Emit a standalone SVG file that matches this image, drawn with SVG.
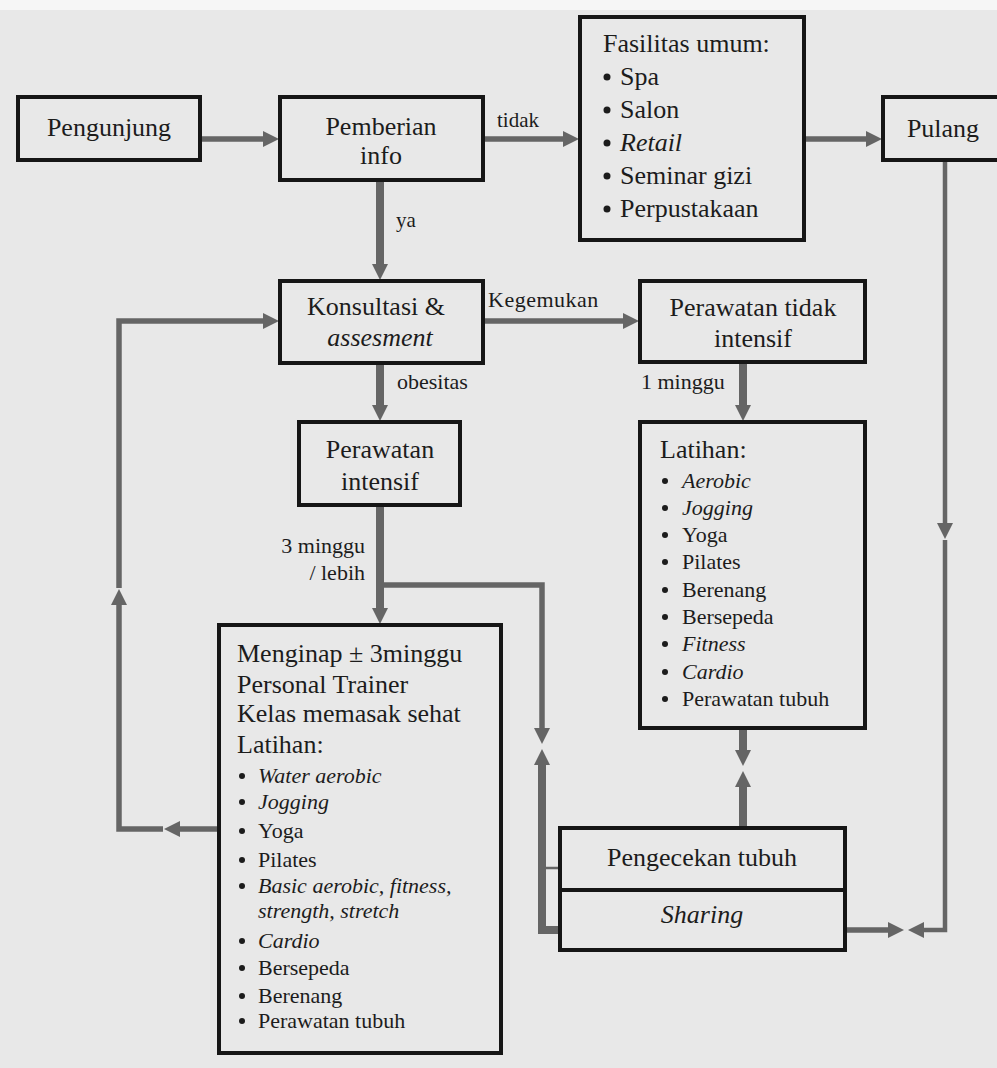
<svg xmlns="http://www.w3.org/2000/svg" width="997" height="1068" viewBox="0 0 997 1068" font-family="'Liberation Serif', 'Times New Roman', serif">
<style>
.bg{fill:#e8e8e8}
.box{fill:#e8e8e8;stroke:#161616;stroke-width:4}
.c{fill:none;stroke:#656565;stroke-linejoin:miter}
.h{stroke-width:5.5}
.v{stroke-width:8}
.t{stroke-width:4.5}
.th{stroke-width:2.5}
text{fill:#1c1c1c;font-family:'Liberation Serif','Times New Roman',serif}
.m{font-size:26px}
.s{font-size:22px}
.l{font-size:21px}
.i{font-style:italic}
.ctr{text-anchor:middle}
.end{text-anchor:end}
.dot{fill:#1c1c1c}
</style>
<defs>
<marker id="ah" viewBox="0 0 16 16" refX="1" refY="8" markerWidth="16" markerHeight="16" markerUnits="userSpaceOnUse" orient="auto">
<path d="M0,0 L16,8 L0,16 z" fill="#656565"/>
</marker>
</defs>
<rect class="bg" x="0" y="0" width="997" height="1068"/>
<rect x="0" y="0" width="997" height="10" fill="#f6f6f6"/>

<g id="connectors">
<path class="c h" d="M200,139 H264" marker-end="url(#ah)"/>
<path class="c h" d="M483,139 H564" marker-end="url(#ah)"/>
<path class="c h" d="M804,139 H867" marker-end="url(#ah)"/>
<path class="c v" d="M380,180 V265" marker-end="url(#ah)"/>
<path class="c h" d="M483,321 H624" marker-end="url(#ah)"/>
<path class="c v" d="M380,363 V406" marker-end="url(#ah)"/>
<path class="c v" d="M743,362 V406" marker-end="url(#ah)"/>
<path class="c v" d="M380,505 V609" marker-end="url(#ah)"/>
<path class="c h" d="M380,585 H542 V729" marker-end="url(#ah)"/>
<path class="c v" d="M560,930 H542 V764" marker-end="url(#ah)"/>
<path class="c th" d="M542,868 H560"/>
<path class="c v" d="M743,728 V751" marker-end="url(#ah)"/>
<path class="c v" d="M743,828 V786" marker-end="url(#ah)"/>
<path class="c h" d="M845,930 H889" marker-end="url(#ah)"/>
<path class="c t" d="M945,160 V524" marker-end="url(#ah)"/>
<path class="c t" d="M945,540 V930 H923" marker-end="url(#ah)"/>
<path class="c h" d="M219,829 H179" marker-end="url(#ah)"/>
<path class="c h" d="M163,829 H119 V604" marker-end="url(#ah)"/>
<path class="c h" d="M119,588 V321 H264" marker-end="url(#ah)"/>
<text class="l" x="497" y="127">tidak</text>
<text class="l" x="396" y="227">ya</text>
<text class="s" x="488" y="307" letter-spacing="0.5">Kegemukan</text>
<text class="s" x="397" y="389">obesitas</text>
<text class="s" x="641" y="389">1 minggu</text>
<text class="s end" x="365" y="553">3 minggu</text>
<text class="s end" x="365" y="580">/ lebih</text>
</g>

<g id="pengunjung">
<rect class="box" x="18" y="97" width="182" height="63"/>
<text class="m ctr" x="109" y="136">Pengunjung</text>
</g>

<g id="pemberian-info">
<rect class="box" x="280" y="97" width="203" height="83"/>
<text class="m ctr" x="381" y="135">Pemberian</text>
<text class="m ctr" x="381" y="164">info</text>
</g>

<g id="fasilitas-umum">
<rect class="box" x="580" y="17" width="224" height="223"/>
<text class="m" x="603" y="52">Fasilitas umum:</text>
<circle class="dot" cx="607" cy="77" r="3.5"/><text class="m" x="620" y="85">Spa</text>
<circle class="dot" cx="607" cy="110" r="3.5"/><text class="m" x="620" y="118">Salon</text>
<circle class="dot" cx="607" cy="143" r="3.5"/><text class="m i" x="620" y="151">Retail</text>
<circle class="dot" cx="607" cy="176" r="3.5"/><text class="m" x="620" y="184">Seminar gizi</text>
<circle class="dot" cx="607" cy="209" r="3.5"/><text class="m" x="620" y="217">Perpustakaan</text>
</g>

<g id="pulang">
<rect class="box" x="883" y="97" width="120" height="63"/>
<text class="m ctr" x="943" y="137">Pulang</text>
</g>

<g id="konsultasi">
<rect class="box" x="280" y="281" width="203" height="82"/>
<text class="m ctr" x="376" y="315">Konsultasi &amp;</text>
<text class="m ctr i" x="380" y="346">assesment</text>
</g>

<g id="perawatan-tidak-intensif">
<rect class="box" x="640" y="281" width="225" height="81"/>
<text class="m ctr" x="753" y="316">Perawatan tidak</text>
<text class="m ctr" x="753" y="347">intensif</text>
</g>

<g id="perawatan-intensif">
<rect class="box" x="299" y="422" width="161" height="83"/>
<text class="m ctr" x="380" y="458">Perawatan</text>
<text class="m ctr" x="380" y="490">intensif</text>
</g>

<g id="latihan-tidak-intensif">
<rect class="box" x="640" y="422" width="225" height="306"/>
<text class="m" x="660" y="458">Latihan:</text>
<circle class="dot" cx="665" cy="481" r="3"/><text class="s i" x="682" y="488">Aerobic</text>
<circle class="dot" cx="665" cy="508" r="3"/><text class="s i" x="682" y="515">Jogging</text>
<circle class="dot" cx="665" cy="535" r="3"/><text class="s" x="682" y="542">Yoga</text>
<circle class="dot" cx="665" cy="562" r="3"/><text class="s" x="682" y="569">Pilates</text>
<circle class="dot" cx="665" cy="590" r="3"/><text class="s" x="682" y="597">Berenang</text>
<circle class="dot" cx="665" cy="617" r="3"/><text class="s" x="682" y="624">Bersepeda</text>
<circle class="dot" cx="665" cy="644" r="3"/><text class="s i" x="682" y="651">Fitness</text>
<circle class="dot" cx="665" cy="672" r="3"/><text class="s i" x="682" y="679">Cardio</text>
<circle class="dot" cx="665" cy="699" r="3"/><text class="s" x="682" y="706">Perawatan tubuh</text>
</g>

<g id="menginap">
<rect class="box" x="219" y="625" width="282" height="428"/>
<text class="m" x="237" y="662">Menginap ± 3minggu</text>
<text class="m" x="237" y="693">Personal Trainer</text>
<text class="m" x="237" y="722">Kelas memasak sehat</text>
<text class="m" x="237" y="753">Latihan:</text>
<circle class="dot" cx="242" cy="776" r="3"/><text class="s i" x="258" y="783">Water aerobic</text>
<circle class="dot" cx="242" cy="802" r="3"/><text class="s i" x="258" y="809">Jogging</text>
<circle class="dot" cx="242" cy="831" r="3"/><text class="s" x="258" y="838">Yoga</text>
<circle class="dot" cx="242" cy="860" r="3"/><text class="s" x="258" y="867">Pilates</text>
<circle class="dot" cx="242" cy="886" r="3"/><text class="s i" x="258" y="893">Basic aerobic, fitness,</text>
<text class="s i" x="258" y="918">strength, stretch</text>
<circle class="dot" cx="242" cy="941" r="3"/><text class="s i" x="258" y="948">Cardio</text>
<circle class="dot" cx="242" cy="968" r="3"/><text class="s" x="258" y="975">Bersepeda</text>
<circle class="dot" cx="242" cy="996" r="3"/><text class="s" x="258" y="1003">Berenang</text>
<circle class="dot" cx="242" cy="1021" r="3"/><text class="s" x="258" y="1028">Perawatan tubuh</text>
</g>

<g id="pengecekan-sharing">
<rect class="box" x="560" y="828" width="285" height="122"/>
<line x1="560" y1="890" x2="845" y2="890" stroke="#161616" stroke-width="4"/>
<text class="m ctr" x="702" y="866">Pengecekan tubuh</text>
<text class="m ctr i" x="702" y="923">Sharing</text>
</g>
</svg>
